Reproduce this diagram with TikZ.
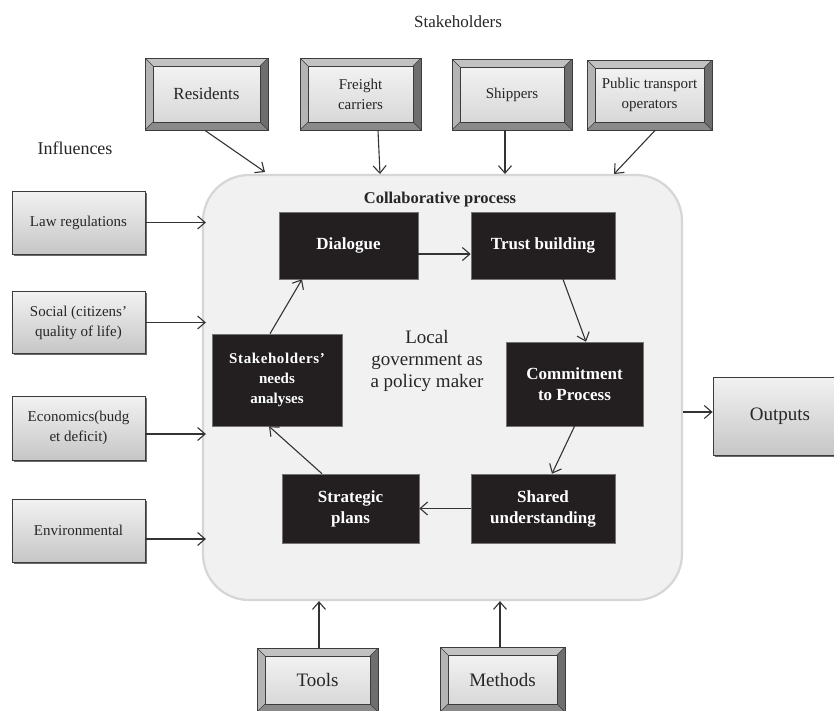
\documentclass[tikz,border=0pt]{standalone}
\usepackage{fontspec}
\setmainfont{Liberation Serif}
\usetikzlibrary{arrows.meta,shadows}

\definecolor{boxblack}{HTML}{231F20}
\definecolor{linegray}{HTML}{333333}
\definecolor{edgedark}{HTML}{3C3C3C}
\definecolor{panelfill}{HTML}{F1F1F1}
\definecolor{paneledge}{HTML}{D6D6D6}
\definecolor{gradtop}{HTML}{F2F2F2}
\definecolor{gradbot}{HTML}{C6C6C6}
\definecolor{facettop}{HTML}{C2C2C2}
\definecolor{facetleft}{HTML}{B4B4B4}
\definecolor{facetright}{HTML}{6E6E6E}
\definecolor{facetbottom}{HTML}{8A8A8A}
\definecolor{facetface}{HTML}{D8D8D8}
\definecolor{shadowgray}{HTML}{6A6A6A}

\newcommand{\fs}[2]{\fontsize{#1}{#2}\selectfont}

\tikzset{
  arr/.style={draw=linegray, line width=1.1pt,
    -{Straight Barb[length=7.5pt,width=13pt,line width=1.1pt]}},
  % raised box with bevelled edges
  bevelbox/.style={rectangle, draw=edgedark, line width=0.9pt, fill=facetbottom,
    inner sep=0pt, align=center, text=black!85,
    path picture={
      \coordinate (oNW) at (path picture bounding box.north west);
      \coordinate (oNE) at (path picture bounding box.north east);
      \coordinate (oSW) at (path picture bounding box.south west);
      \coordinate (oSE) at (path picture bounding box.south east);
      \coordinate (iNW) at ([xshift=8pt,yshift=-8pt]oNW);
      \coordinate (iNE) at ([xshift=-8pt,yshift=-8pt]oNE);
      \coordinate (iSW) at ([xshift=8pt,yshift=8pt]oSW);
      \coordinate (iSE) at ([xshift=-8pt,yshift=8pt]oSE);
      \fill[facetright] (oNE) -- (oSE) -- (iSE) -- (iNE) -- cycle;
      \fill[facettop] (oNW) -- (oNE) -- (iNE) -- (iNW) -- cycle;
      \fill[facetleft] (oNW) -- (iNW) -- (iSW) -- (oSW) -- cycle;
      \shade[top color=gradtop, bottom color=facetface, draw=edgedark, line width=0.7pt]
        (iNW) rectangle (iSE);
      \draw[edgedark, line width=0.6pt] (oNW) -- (iNW) (oNE) -- (iNE)
        (oSW) -- (iSW) (oSE) -- (iSE);
    }},
  % flat box with a vertical gradient and a small shadow
  gradbox/.style={rectangle, draw=edgedark, line width=0.8pt,
    top color=gradtop, bottom color=gradbot, inner sep=0pt, align=center,
    text=black!85,
    drop shadow={shadow xshift=1.5pt, shadow yshift=-1.8pt, fill=shadowgray, opacity=1}},
  stepbox/.style={rectangle, fill=boxblack, draw=black!55, line width=0.6pt,
    text=white, inner sep=0pt, align=center, font=\bfseries\fs{17}{21}},
  lbl/.style={inner sep=0pt, text=black!85}
}

\begin{document}
\begin{tikzpicture}[x=1pt,y=-1pt]
  \useasboundingbox (0,0) rectangle (834,710);
  \fill[white] (0,0) rectangle (834,710);

  % collaborative panel
  \node[rectangle, rounded corners=46pt, fill=panelfill, draw=paneledge,
        line width=2.2pt, minimum width=479pt, minimum height=425pt]
        (main) at (442.5,387.5) {};

  % headings
  \node[lbl, font=\fs{17}{20}] (sthead) at (458,22) {Stakeholders};
  \node[lbl, font=\fs{18}{20}] (infhead) at (75,148) {Influences};
  \node[lbl, font=\bfseries\fs{16.5}{19}] (collab) at (440,200) {Collaborative process};

  % stakeholder boxes
  \node[bevelbox, minimum width=123pt, minimum height=72pt, font=\fs{17}{20}]
    (residents) at (206.5,94) {Residents};
  \node[bevelbox, minimum width=121pt, minimum height=72pt, font=\fs{15}{20}]
    (freight) at (360.5,94) {Freight\\carriers};
  \node[bevelbox, minimum width=120pt, minimum height=71pt, font=\fs{15}{20}]
    (shippers) at (512,94.5) {Shippers};
  \node[bevelbox, minimum width=125pt, minimum height=70pt, font=\fs{15}{20}]
    (public) at (649.5,95) {Public transport\\operators};

  % influence boxes
  \node[gradbox, minimum width=133pt, minimum height=63pt, font=\fs{15}{20}]
    (law) at (78.5,222.5) {Law regulations};
  \node[gradbox, minimum width=133pt, minimum height=62pt, font=\fs{15}{20}]
    (social) at (78.5,322.5) {Social (citizens'\\quality of life)};
  \node[gradbox, minimum width=133pt, minimum height=64pt, font=\fs{15}{20}]
    (econ) at (78.5,428) {Economics(budg\\et deficit)};
  \node[gradbox, minimum width=133pt, minimum height=63pt, font=\fs{15}{20}]
    (env) at (78.5,530.5) {Environmental};

  % output box
  \node[gradbox, minimum width=134pt, minimum height=78pt, font=\fs{19}{22}]
    (outputs) at (780,416) {Outputs};

  % tools and methods
  \node[bevelbox, minimum width=121pt, minimum height=64pt, font=\fs{19}{22}]
    (tools) at (317.5,680) {Tools};
  \node[bevelbox, minimum width=125pt, minimum height=65pt, font=\fs{19}{22}]
    (methods) at (502.5,679.5) {Methods};

  % process cycle
  \node[stepbox, minimum width=139pt, minimum height=67pt]
    (dialogue) at (348.5,245.5) {Dialogue};
  \node[stepbox, minimum width=144pt, minimum height=67pt]
    (trust) at (543,245.5) {Trust building};
  \node[stepbox, minimum width=137pt, minimum height=84pt]
    (commit) at (574.5,384) {Commitment\\to Process};
  \node[stepbox, minimum width=144pt, minimum height=69pt]
    (shared) at (543,508.5) {Shared\\understanding};
  \node[stepbox, minimum width=137pt, minimum height=69pt]
    (strategic) at (350.5,508.5) {Strategic\\plans};
  \node[stepbox, minimum width=130pt, minimum height=92pt, font=\bfseries\fs{15}{20}]
    (needs) at (277,380) {\addfontfeature{LetterSpace=4}Stakeholders'\\needs\\analyses};

  \node[lbl, align=center, font=\fs{19}{22}] (localgov) at (427,361)
    {Local\\government as\\a policy maker};

  % arrows around the cycle
  \draw[arr] ([yshift=-8.5pt]dialogue.east) -- ([yshift=-8.5pt]trust.west);
  \draw[arr] ([xshift=20pt]trust.south) -- ([xshift=11.5pt]commit.north);
  \draw[arr] (commit.south) -- ([xshift=9pt]shared.north);
  \draw[arr] (shared.west) -- (strategic.east);
  \draw[arr] ([xshift=-28.5pt]strategic.north) -- ([xshift=-8pt]needs.south);
  \draw[arr] ([xshift=-7pt]needs.north) -- ([xshift=-46.5pt]dialogue.south);

  % stakeholders feeding into the panel
  \coordinate (resIn) at (265,172);
  \coordinate (frIn) at (380,174);
  \coordinate (shIn) at (505,174);
  \coordinate (puIn) at (614,174);
  \draw[arr] ([xshift=-1.5pt]residents.south) -- (resIn);
  \draw[arr] ([xshift=17.5pt]freight.south) -- (frIn);
  \draw[arr] ([xshift=-7pt]shippers.south) -- (shIn);
  \draw[arr] ([xshift=5.5pt]public.south) -- (puIn);

  % influences feeding into the panel
  \coordinate (lawOut) at (law.east);
  \coordinate (socOut) at (social.east);
  \coordinate (ecoOut) at ([yshift=-6pt]econ.east);
  \coordinate (envOut) at ([yshift=-8.5pt]env.east);
  \draw[arr] (lawOut) -- ([xshift=4pt]lawOut -| main.west);
  \draw[arr] (socOut) -- ([xshift=4pt]socOut -| main.west);
  \draw[arr] (ecoOut) -- ([xshift=4pt]ecoOut -| main.west);
  \draw[arr] (envOut) -- ([xshift=4pt]envOut -| main.west);

  % tools and methods feeding into the panel
  \draw[arr] ([xshift=1.5pt]tools.north) -- ([xshift=1.5pt]tools.north |- main.south);
  \draw[arr] ([xshift=-2.5pt]methods.north) -- ([xshift=-2.5pt]methods.north |- main.south);

  % panel to outputs
  \coordinate (outIn) at ([yshift=4pt]outputs.west);
  \draw[arr] (outIn -| main.east) -- (outIn);
\end{tikzpicture}
\end{document}
